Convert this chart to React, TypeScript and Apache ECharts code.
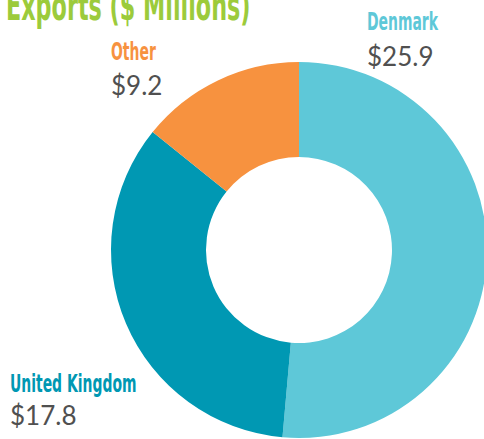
import React, { useEffect, useRef } from "react";
import * as echarts from "echarts";

const categories = ["Denmark", "United Kingdom", "Other"];
// Values printed on the labels ($ millions)
const values = [25.9, 17.8, 9.2];
// Share of the ring each slice occupies as drawn in the picture (percent)
const drawnShares = [51.4, 34.4, 14.2];
const colors = ["#5ec8d8", "#0098b3", "#f7923f"];
const titleText = "Exports ($ Millions)";

export default function App() {
  const ref = useRef<HTMLDivElement>(null);

  useEffect(() => {
    document.body.style.margin = "0";
    if (!ref.current) return;
    const chart = echarts.init(ref.current, null, { renderer: "svg" });

    const condensed = "'Liberation Sans Narrow', 'DejaVu Sans Condensed', sans-serif";
    const labelFont = "bold 25px " + condensed;
    const valueFont = "26px Lato, sans-serif";
    const fmt = (v: number) => "$" + v.toFixed(1);

    const labelPos: Record<string, { x: number; y1: number; y2: number }> = {
      Denmark: { x: 367, y1: 21.3, y2: 55.7 },
      Other: { x: 111, y1: 52, y2: 85 },
      "United Kingdom": { x: 10, y1: 383.3, y2: 415 },
    };

    const graphics: any[] = [
      {
        type: "text",
        x: 6,
        y: 6,
        scaleX: 0.62,
        style: {
          text: titleText,
          font: "bold 40px " + condensed,
          fill: "#9ccb3b",
          verticalAlign: "middle",
          align: "left",
        },
      },
    ];
    categories.forEach((c, i) => {
      const p = labelPos[c];
      graphics.push({
        type: "text",
        x: p.x,
        y: p.y1,
        scaleX: 0.62,
        style: {
          text: c,
          font: labelFont,
          fill: colors[i],
          verticalAlign: "middle",
          align: "left",
        },
      });
      graphics.push({
        type: "text",
        x: p.x,
        y: p.y2,
        style: {
          text: fmt(values[i]),
          font: valueFont,
          fill: "#505050",
          verticalAlign: "middle",
          align: "left",
        },
      });
    });

    chart.setOption({
      animation: false,
      backgroundColor: "#ffffff",
      series: [
        {
          type: "pie",
          center: [299, 250],
          radius: [93, 188],
          startAngle: 90,
          clockwise: true,
          avoidLabelOverlap: false,
          label: { show: false },
          labelLine: { show: false },
          emphasis: { disabled: true },
          itemStyle: { borderWidth: 0 },
          data: categories.map((c, i) => ({
            name: c,
            value: drawnShares[i],
            itemStyle: { color: colors[i] },
          })),
        },
      ],
      graphic: graphics,
    });

    return () => chart.dispose();
  }, []);

  return <div ref={ref} style={{ width: 484, height: 439 }} />;
}
